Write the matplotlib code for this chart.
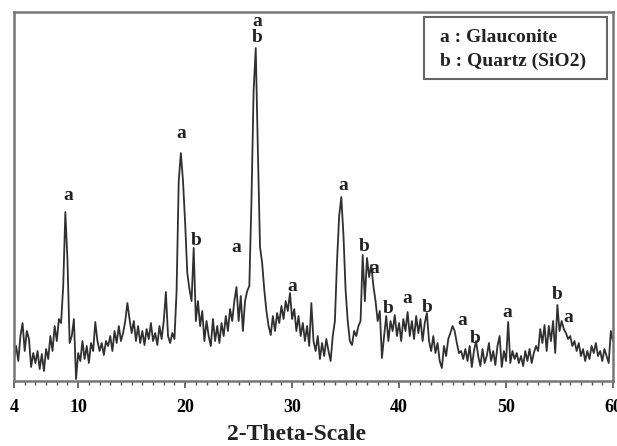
import numpy as np
import matplotlib
matplotlib.use("Agg")
import matplotlib.pyplot as plt
from matplotlib.patches import Rectangle

# 2-theta scan 4..60 deg, step 0.2
two_theta_start = 4.0
two_theta_stop = 60.0
two_theta_step = 0.2

intensity = [
    22, 35, 20, 45, 58,     # 4
    30, 50, 42, 14, 28,     # 5
    18, 30, 12, 27, 10,     # 6
    32, 22, 45, 30, 55,     # 7
    40, 62, 58, 95, 169,    # 8
    120, 38, 45, 62, 2,     # 9
    28, 20, 40, 22, 35,     # 10
    18, 38, 30, 59, 40,     # 11
    30, 38, 26, 40, 35,     # 12
    45, 30, 50, 38, 55,     # 13
    40, 48, 60, 78, 62,     # 14
    48, 60, 40, 55, 38,     # 15
    50, 36, 52, 42, 58,     # 16
    40, 48, 36, 55, 42,     # 17
    60, 89, 45, 38, 48,     # 18
    42, 90, 200, 228, 200,  # 19
    158, 108, 92, 80, 133,  # 20
    60, 80, 55, 70, 40,     # 21
    60, 45, 35, 62, 40,     # 22
    55, 38, 58, 45, 65,     # 23
    50, 72, 60, 80, 94,     # 24
    60, 85, 50, 80, 90,     # 25
    95, 180, 290, 333, 230, # 26
    134, 118, 91, 70, 55,   # 27
    46, 65, 50, 68, 58,     # 28
    75, 62, 80, 70, 88,     # 29
    62, 72, 50, 65, 45,     # 30
    58, 40, 55, 35, 78,     # 31
    40, 30, 45, 22, 38,     # 32
    25, 42, 30, 20, 45,     # 33
    60, 120, 165, 184, 146, # 34
    91, 60, 40, 36, 50,     # 35
    45, 55, 60, 126, 80,    # 36
    123, 104, 116, 95, 80,  # 37
    60, 70, 23, 45, 65,     # 38
    40, 60, 50, 66, 45,     # 39
    58, 40, 62, 50, 69,     # 40
    45, 60, 42, 65, 48,     # 41
    62, 40, 58, 68, 40,     # 42
    30, 45, 28, 38, 20,     # 43
    13, 35, 25, 42, 48,     # 44
    55, 50, 38, 28, 30,     # 45
    22, 32, 20, 35, 14,     # 46
    30, 40, 25, 15, 32,     # 47
    18, 25, 38, 20, 30,     # 48
    16, 35, 45, 14, 30,     # 49
    20, 59, 18, 30, 22,     # 50
    28, 18, 25, 15, 30,     # 51
    20, 32, 18, 28, 35,     # 52
    30, 52, 38, 56, 30,     # 53
    55, 40, 60, 28, 76,     # 54
    50, 60, 52, 48, 42,     # 55
    45, 35, 40, 30, 38,     # 56
    25, 32, 20, 30, 22,     # 57
    35, 28, 38, 25, 30,     # 58
    20, 32, 25, 18, 50,     # 59
    40,                     # 60
]

# Peak labels: (letter, 2-theta, height)
label_letters = ["a", "a", "b", "a", "a", "b", "a", "a", "b", "a", "b", "a", "b", "a", "b", "a", "b", "a"]
label_theta   = [9.05, 19.6, 21.0, 24.75, 26.7, 26.7, 30.05, 34.75, 36.7, 37.65, 38.95, 40.8, 42.6, 45.9, 47.1, 50.1, 54.8, 55.8]
label_height  = [186, 248, 141, 134, 360, 344, 95, 196, 135, 113, 73, 83, 74, 61, 43, 69, 87, 64]

legend_lines = ["a : Glauconite", "b : Quartz (SiO2)"]
xtick_values = [4, 10, 20, 30, 40, 50, 60]
xlabel = "2-Theta-Scale"

serif = ["Liberation Serif", "DejaVu Serif"]

two_theta = np.arange(two_theta_start, two_theta_stop + two_theta_step / 2, two_theta_step)
y = np.array(intensity, dtype=float)

fig = plt.figure(figsize=(6.17, 4.46), dpi=100)
ax = fig.add_axes([0.0227, 0.1457, 0.9708, 0.8273])

ax.plot(two_theta, y, color="#303030", linewidth=1.3)

ax.set_xlim(4, 60)
ax.set_ylim(0, 369)
ax.set_yticks([])
ax.set_xticks(xtick_values)
ax.set_xticklabels([str(v) for v in xtick_values], fontfamily=serif,
                   fontweight="bold", fontsize=13)
ax.set_xticks(np.arange(4, 61, 1), minor=True)
ax.tick_params(axis="x", which="major", direction="out", length=5, width=1.2,
               color="#555555", pad=8)
ax.tick_params(axis="x", which="minor", direction="out", length=3, width=1.0,
               color="#555555")

for s in ax.spines.values():
    s.set_color("#777777")
    s.set_linewidth(1.8)

fig.text(296 / 617, 1 - 434 / 446, xlabel, ha="center", va="center",
         fontfamily=serif, fontweight="bold", fontsize=17, color="#222222")

for letter, tx, ty in zip(label_letters, label_theta, label_height):
    ax.text(tx, ty, letter, ha="center", va="center", fontfamily=serif,
            fontweight="bold", fontsize=14, color="#222222")

# legend box
ax.add_patch(Rectangle((0.684, 0.818), 0.306, 0.168, transform=ax.transAxes,
                       facecolor="white", edgecolor="#666666", linewidth=1.5,
                       zorder=3))
ax.text(0.711, 0.932, legend_lines[0], transform=ax.transAxes, ha="left",
        va="center", fontfamily=serif, fontweight="bold", fontsize=14,
        color="#222222", zorder=4)
ax.text(0.711, 0.867, legend_lines[1], transform=ax.transAxes, ha="left",
        va="center", fontfamily=serif, fontweight="bold", fontsize=14,
        color="#222222", zorder=4)

fig.savefig("out.png", dpi=100)
